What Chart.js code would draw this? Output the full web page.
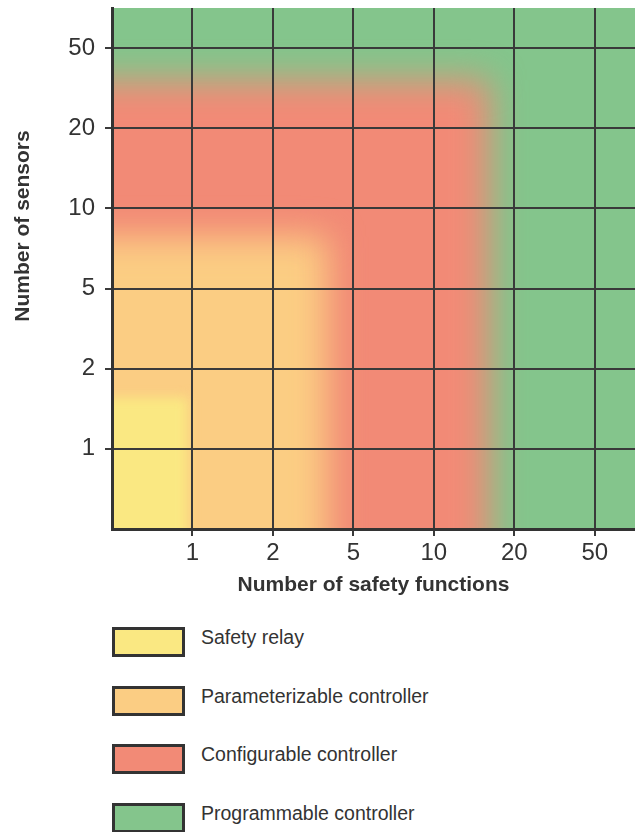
<!DOCTYPE html>
<html>
<head>
<meta charset="utf-8">
<script src="https://cdn.jsdelivr.net/npm/chart.js@4/dist/chart.umd.min.js"></script>
<style>
  body { margin: 0; background: #fff; font-family: "Liberation Sans", Arial, sans-serif; }
  #wrap { position: relative; width: 635px; height: 832px; overflow: hidden; }
  #legend { position: absolute; left: 112px; top: 627px; }
  .item { display: flex; align-items: center; height: 30px; margin-bottom: 28.7px; }
  .box { width: 67px; height: 24px; border: 3px solid #333; }
  .item span { margin-left: 16px; margin-top: -9px; font-size: 19.5px; color: #333; }
</style>
</head>
<body>
<div id="wrap">
  <canvas id="Chart" width="635" height="600"></canvas>
  <div id="legend"></div>
</div>
<script>
// * Tick labels (log-like steps, drawn at equal spacing)
const xTickLabels = ['1', '2', '5', '10', '20', '50']
const yTickLabels = ['1', '2', '5', '10', '20', '50']
const tickSteps = [1, 2, 3, 4, 5, 6]

// * Zones, smallest first
const zoneLabels = ['Safety relay', 'Parameterizable controller', 'Configurable controller', 'Programmable controller']
// upper edge of each zone in tick steps (safety functions / sensors)
const zoneMaxFunctions = [0.94, 2.68, 4.69, 8]
const zoneMaxSensors = [1.64, 3.65, 5.6, 8]

const zoneColors = ['#FAE882', '#FBCD83', '#F28A76', '#84C58C']
const zoneBlur = [6, 17, 17, 0]

const ink = '#333'

// * one filled rectangle per zone, from below the origin up to its edge;
//   the line drops back down past the edge so the fill's clip leaves room for the soft edge
const datasets = zoneLabels.map((label, i) => ({
    label: label,
    data: [
        { x: -1, y: zoneMaxSensors[i] },
        { x: zoneMaxFunctions[i], y: zoneMaxSensors[i] },
        { x: zoneMaxFunctions[i], y: -1 },
        { x: zoneMaxFunctions[i] + 1, y: -1 },
    ],
    backgroundColor: zoneColors[i],
    borderColor: 'transparent',
    borderWidth: 0,
    pointRadius: 0,
    fill: { value: -1 },
    blur: zoneBlur[i],
}))

// * soft edges between the zones
function setBlur(chart, i) {
    const ds = chart.data.datasets[i]
    chart.ctx.filter = ds && ds.blur ? 'blur(' + ds.blur + 'px)' : 'none'
}
const softEdges = {
    id: 'softEdges',
    beforeDatasetsDraw(chart) { setBlur(chart, chart.data.datasets.length - 1) },
    afterDatasetDraw(chart, args) { setBlur(chart, args.index - 1) },
    afterDatasetsDraw(chart) { chart.ctx.filter = 'none' },
}

// * y title sits a bit above the middle in the original
const sideTitle = {
    id: 'sideTitle',
    afterDraw(chart) {
        const ctx = chart.ctx
        ctx.save()
        ctx.translate(23, 226)
        ctx.rotate(-Math.PI / 2)
        ctx.font = 'bold 21px "Liberation Sans"'
        ctx.fillStyle = ink
        ctx.textAlign = 'center'
        ctx.textBaseline = 'middle'
        ctx.fillText('Number of sensors', 0, 0)
        ctx.restore()
    }
}

const axisBase = {
    type: 'linear',
    min: 0,
    max: 6.5,
    grid: { z: 1, color: '#3a3a3a', lineWidth: 2, tickLength: 7, tickColor: '#3a3a3a', tickWidth: 2 },
    border: { z: 1, display: true, color: ink, width: 3 },
}

const config = {
    type: 'line',
    data: { datasets },
    options: {
        responsive: false,
        animation: false,
        layout: { padding: { top: 8, right: 0, left: 0, bottom: 0 } },
        plugins: { legend: { display: false }, tooltip: { enabled: false } },
        scales: {
            x: {
                ...axisBase,
                afterFit: s => { s.height = 71; s.paddingLeft = 0; s.paddingRight = 0 },
                afterBuildTicks: s => { s.ticks = tickSteps.map(v => ({ value: v })) },
                ticks: {
                    padding: 3,
                    color: ink,
                    font: { size: 24, family: 'Liberation Sans' },
                    callback: v => xTickLabels[v - 1],
                },
                title: {
                    display: true,
                    text: 'Number of safety functions',
                    color: ink,
                    font: { size: 21, weight: 'bold', family: 'Liberation Sans' },
                    padding: { top: 0, bottom: 2 },
                },
            },
            y: {
                ...axisBase,
                afterFit: s => { s.width = 112; s.paddingTop = 0; s.paddingBottom = 0 },
                afterBuildTicks: s => { s.ticks = tickSteps.map(v => ({ value: v })) },
                ticks: {
                    padding: 10,
                    color: ink,
                    font: { size: 24, family: 'Liberation Sans' },
                    callback: v => yTickLabels[v - 1],
                },
            },
        },
    },
    plugins: [softEdges, sideTitle],
}

const zoneChart = new Chart(document.getElementById('Chart'), config)

// * legend, one zone per row
const legend = document.getElementById('legend')
zoneLabels.forEach((label, i) => {
    const row = document.createElement('div')
    row.className = 'item'
    const box = document.createElement('div')
    box.className = 'box'
    box.style.background = zoneColors[i]
    const text = document.createElement('span')
    text.textContent = label
    row.appendChild(box)
    row.appendChild(text)
    legend.appendChild(row)
})
</script>
</body>
</html>
